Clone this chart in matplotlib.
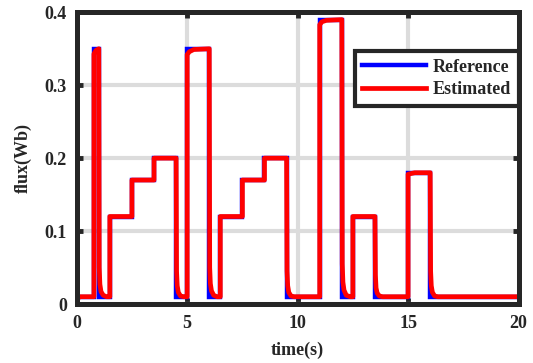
# -*- coding: utf-8 -*-
"""
flux reference vs estimated
"""
import matplotlib
matplotlib.use('Agg')
import matplotlib.pyplot as plt

# reference flux (step signal, steps-post)
ref_t = [0.0, 0.78, 1.0, 1.5, 2.5, 3.5, 4.5, 5.0, 6.0, 6.5, 7.5, 8.5, 9.5,
         11.0, 12.0, 12.5, 13.5, 15.0, 16.0, 20.0]
ref_v = [0.01, 0.35, 0.01, 0.12, 0.17, 0.20, 0.01, 0.35, 0.01, 0.12, 0.17, 0.20, 0.01,
         0.39, 0.01, 0.12, 0.01, 0.18, 0.01, 0.01]

# estimated flux, points
est_t = [0.0, 0.05, 0.12, 0.78, 0.78, 0.88, 1.0, 1.02, 1.05, 1.1, 1.2, 1.35,
         1.5, 1.5, 2.5, 2.5, 3.5, 3.5, 4.5, 4.52, 4.55, 4.6, 4.7, 4.85,
         5.0, 5.0, 5.1, 5.3, 6.0, 6.02, 6.05, 6.1, 6.2, 6.35,
         6.5, 6.5, 7.5, 7.5, 8.5, 8.5, 9.5, 9.52, 9.55, 9.6, 9.7, 9.85,
         11.0, 11.0, 11.1, 11.3, 12.0, 12.02, 12.05, 12.1, 12.2, 12.38,
         12.5, 12.5, 13.5, 13.52, 13.55, 13.6, 13.7, 13.85,
         15.0, 15.0, 15.3, 16.0, 16.02, 16.05, 16.1, 16.2, 16.35, 20.0]
est_v = [0.0, 0.007, 0.01, 0.01, 0.343, 0.348, 0.35, 0.05, 0.027, 0.017, 0.012, 0.01,
         0.01, 0.12, 0.12, 0.17, 0.17, 0.20, 0.20, 0.045, 0.025, 0.016, 0.011, 0.01,
         0.01, 0.342, 0.346, 0.349, 0.35, 0.05, 0.028, 0.018, 0.012, 0.01,
         0.01, 0.12, 0.12, 0.17, 0.17, 0.20, 0.20, 0.045, 0.025, 0.016, 0.011, 0.01,
         0.01, 0.383, 0.387, 0.389, 0.39, 0.055, 0.03, 0.019, 0.012, 0.01,
         0.01, 0.12, 0.12, 0.04, 0.022, 0.015, 0.011, 0.01,
         0.01, 0.178, 0.18, 0.18, 0.045, 0.025, 0.016, 0.011, 0.01, 0.01]

x_ticks = [0, 5, 10, 15, 20]
y_ticks = [0, 0.1, 0.2, 0.3, 0.4]
y_tick_labels = ['0', '0.1', '0.2', '0.3', '0.4']

dark = '#262626'
font = 'Liberation Serif'

fig = plt.figure(figsize=(5.33, 3.63), dpi=100)
ax = fig.add_axes([0.1439, 0.1625, 0.829, 0.8036])

ax.plot(ref_t, ref_v, color='#0000ff', linewidth=3.2, drawstyle='steps-post',
        label='Reference', solid_joinstyle='miter')
ax.plot(est_t, est_v, color='#ff0000', linewidth=3.4, label='Estimated')

ax.set_xlim(0, 20)
ax.set_ylim(0, 0.4)
ax.set_xticks(x_ticks)
ax.set_yticks(y_ticks)
ax.set_yticklabels(y_tick_labels)

ax.set_axisbelow(True)
ax.grid(True, color='#dcdcdc', linewidth=3.0)

for s in ax.spines.values():
    s.set_linewidth(3.6)
    s.set_color(dark)

ax.tick_params(direction='in', length=4.5, width=3.5, color=dark,
               top=True, right=True, labelsize=13, labelcolor=dark)
ax.tick_params(axis='x', pad=8)
ax.tick_params(axis='y', pad=7)
for lab in ax.get_xticklabels() + ax.get_yticklabels():
    lab.set_fontfamily(font)
    lab.set_fontweight('bold')

ax.set_xlabel('time(s)', fontsize=13, fontweight='bold', family=font,
              color=dark, labelpad=7)
ax.set_ylabel('flux(Wb)', fontsize=13, fontweight='bold', family=font,
              color=dark, labelpad=9)

leg = ax.legend(loc='upper right', bbox_to_anchor=(1.0, 0.867), borderaxespad=0,
                fancybox=False, framealpha=1, edgecolor=dark, handlelength=3.5,
                handletextpad=0.4, borderpad=0.42, labelspacing=0.3,
                prop={'family': font, 'weight': 'bold', 'size': 13})
leg.get_frame().set_linewidth(3.0)
for t in leg.get_texts():
    t.set_color(dark)

plt.savefig('out.png', dpi=100, facecolor='white')
plt.close()
